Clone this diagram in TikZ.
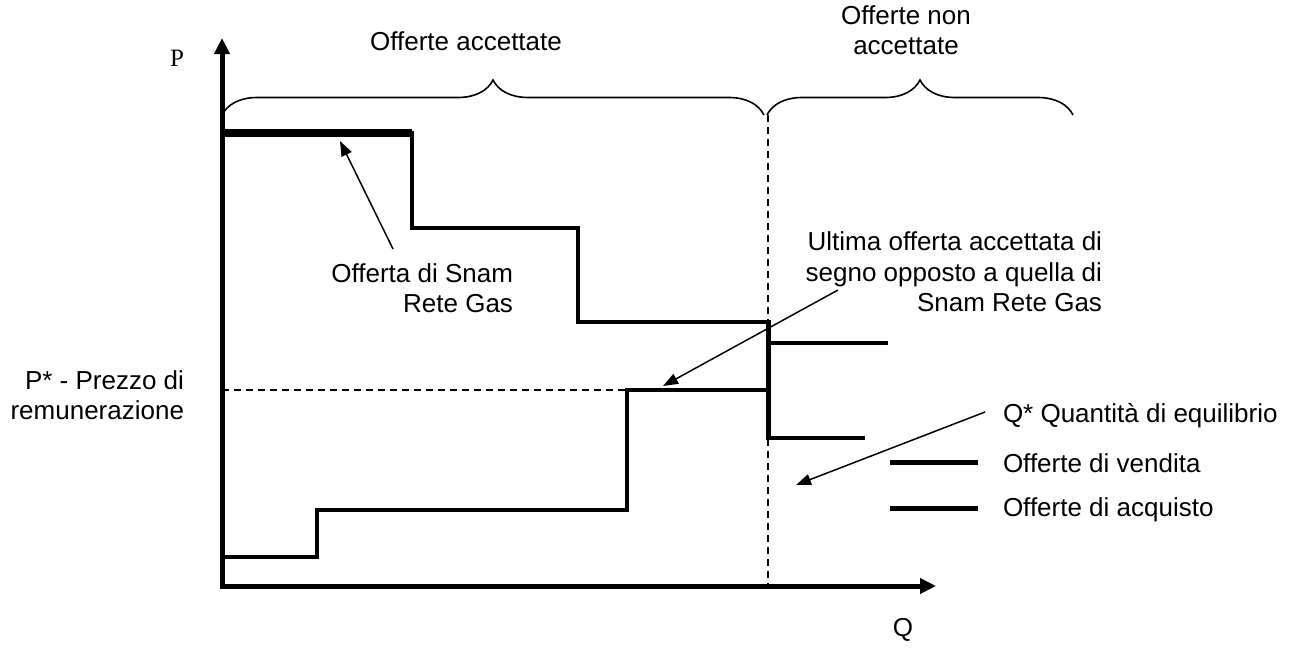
\documentclass[tikz,border=0pt]{standalone}
\usepackage{fontspec}
\setmainfont{Liberation Sans}
\newfontfamily\serifP{Liberation Serif}
\usetikzlibrary{arrows.meta,decorations.pathreplacing}
\begin{document}
\begin{tikzpicture}[x=1pt,y=-1pt,
  every node/.style={font=\fontsize{26}{30.5}\selectfont, inner sep=0pt, outer sep=0pt},
  axisline/.style={line width=5pt, -{Triangle[length=16pt,width=15pt]}},
  stepline/.style={line width=4.5pt, line cap=rect},
  thickstep/.style={line width=7.5pt},
  guide/.style={line width=1.4pt, dash pattern=on 7pt off 5pt},
  bracedeco/.style={line width=1.6pt, decorate, decoration={brace, amplitude=35pt}},
  pointer/.style={line width=1.5pt, -{Triangle[length=15pt,width=11pt]}},
  legendline/.style={line width=5pt}]
\useasboundingbox (0,0) rectangle (1303,653);

% axes
\coordinate (O) at (222,586);
\coordinate (Ytip) at (222,38);
\coordinate (Xtip) at (936,586);
\draw[axisline] (222,589) -- (Ytip);
\draw[axisline] (220,586) -- (Xtip);
\node[font=\fontsize{25}{28}\serifP] (P) at (177,58) {P};
\node (Q) at (903,630) {Q};

% braces
\draw[bracedeco] (222,115) -- (764,115);
\draw[bracedeco] (767,115) -- (1073,115);
\node (acc) at (466,41) {Offerte accettate};
\node[align=center] (nonacc) at (906,30) {Offerte non\\accettate};

% guide lines
\draw[guide] (768,115) -- (768,586);
\draw[guide] (222,390) -- (627,390);

% sell offers
\draw[thickstep] (222,133) -- (412,133);
\draw[stepline] (412,133) -- (412,228) -- (578,228) -- (578,322) -- (768,322);
\draw[line width=5pt] (768,320) -- (768,440);
\draw[stepline] (768,343) -- (886,343);
\draw[stepline] (768,438) -- (863,438);

% buy offers
\draw[stepline] (222,557) -- (317,557) -- (317,510) -- (627,510) -- (627,390) -- (768,390);

% labels
\node[align=right, anchor=east] (snam) at (513,288) {Offerta di Snam\\Rete Gas};
\node[align=right, anchor=east] (ultima) at (1102,272) {Ultima offerta accettata di\\segno opposto a quella di\\Snam Rete Gas};
\node[align=right, anchor=east] (pstar) at (184,395) {P* - Prezzo di\\remunerazione};
\node[anchor=west] (qstar) at (1003,416) {Q* Quantità di equilibrio};
\node[anchor=west] (vend) at (1003,463) {Offerte di vendita};
\node[anchor=west] (acq) at (1003,510) {Offerte di acquisto};

% pointers
\coordinate (snamTail) at (393,249);
\coordinate (snamTip) at (340,141);
\draw[pointer] (snamTail) -- (snamTip);
\coordinate (ultTail) at (838,290);
\coordinate (ultTip) at (663,386);
\draw[pointer] (ultTail) -- (ultTip);
\coordinate (qTail) at (985,412);
\coordinate (qTip) at (796,485);
\draw[pointer] (qTail) -- (qTip);

% legend
\draw[legendline] (890,462) -- (978,462);
\draw[legendline] (890,508) -- (978,508);
\end{tikzpicture}
\end{document}
